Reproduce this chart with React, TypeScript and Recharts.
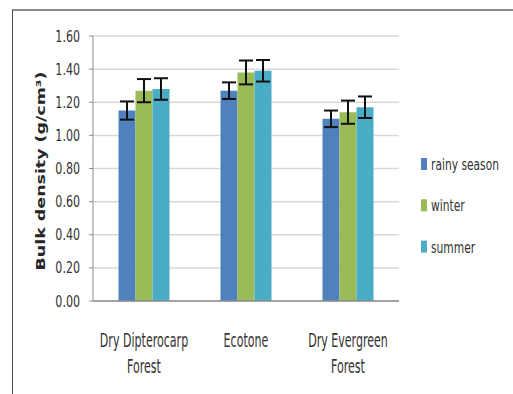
import React from 'react';
import { BarChart, Bar, XAxis, YAxis, CartesianGrid, ErrorBar, Legend } from 'recharts';

const categories = ['Dry Dipterocarp Forest', 'Ecotone', 'Dry Evergreen Forest'];
const seriesNames = ['rainy season', 'winter', 'summer'];
const seriesColors = ['#4f81bd', '#9bbb59', '#4bacc6'];

// mean bulk density per site (g/cm3)
const rainySeason = [1.15, 1.27, 1.1];
const winter = [1.27, 1.38, 1.14];
const summer = [1.28, 1.39, 1.17];

// standard deviations
const rainySeasonSd = [0.055, 0.05, 0.05];
const winterSd = [0.07, 0.072, 0.07];
const summerSd = [0.065, 0.065, 0.065];

const yTicks = [0, 0.2, 0.4, 0.6, 0.8, 1.0, 1.2, 1.4, 1.6];

const data = categories.map((name, i) => ({
  name,
  rainy: rainySeason[i],
  rainySd: rainySeasonSd[i],
  winter: winter[i],
  winterSd: winterSd[i],
  summer: summer[i],
  summerSd: summerSd[i],
}));

const seriesKeys = ['rainy', 'winter', 'summer'];

const FONT = '"DejaVu Sans Condensed", "Liberation Sans Narrow", sans-serif';
const TEXT = '#333333';

const YTick = ({ x, y, payload }: any) => (
  <g transform={`translate(${x},${y})`}>
    <text transform="scale(0.85,1.12)" x={0} y={5} textAnchor="end" fontFamily={FONT} fontSize={14.5} fill={TEXT}>
      {Number(payload.value).toFixed(2)}
    </text>
  </g>
);

const XTick = ({ x, y, payload }: any) => {
  const words = String(payload.value).split(' ');
  const lines = words.length > 2 ? [words.slice(0, -1).join(' '), words[words.length - 1]] : [payload.value];
  return (
    <g transform={`translate(${x},${y})`}>
      {lines.map((line: string, i: number) => (
        <text
          key={i}
          transform={`translate(0,${46 + i * 26}) scale(0.82,1.3)`}
          textAnchor="middle"
          fontFamily={FONT}
          fontSize={15}
          fill={TEXT}
        >
          {line}
        </text>
      ))}
    </g>
  );
};

const LegendBox = () => (
  <svg width={94} height={120}>
    {seriesNames.map((name, i) => (
      <g key={name} transform={`translate(0,${i * 41.3})`}>
        <rect x={2} y={8} width={6} height={12} fill={seriesColors[i]} />
        <text transform="translate(12,20) scale(0.82,1.15)" fontFamily={FONT} fontSize={14.5} fill={TEXT}>
          {name}
        </text>
      </g>
    ))}
  </svg>
);

export default function App() {
  return (
    <div style={{ position: 'absolute', left: 0, top: 0, width: 513, height: 394, background: '#fff', overflow: 'hidden' }}>
      {/* chart frame: top and left edges */}
      <div
        style={{
          position: 'absolute',
          left: 12,
          top: 9,
          width: 520,
          height: 400,
          borderTop: '2px solid #8a8a8a',
          borderLeft: '1px solid #505050',
        }}
      />
      <BarChart
        width={513}
        height={394}
        data={data}
        margin={{ top: 36, right: 114, bottom: 13, left: 13 }}
        barCategoryGap="25%"
        barGap={0}
        style={{ position: 'absolute', left: 0, top: 0 }}
      >
        <CartesianGrid vertical={false} stroke="#d9d9d9" strokeWidth={1.5} />
        <XAxis
          dataKey="name"
          height={80}
          tickLine={false}
          tickSize={0}
          tickMargin={0}
          axisLine={{ stroke: '#8c8c8c', strokeWidth: 1.5 }}
          tick={<XTick />}
          interval={0}
        />
        <YAxis
          width={80}
          domain={[0, 1.6]}
          ticks={yTicks}
          tickSize={4}
          tickMargin={9}
          tickLine={{ stroke: '#8c8c8c' }}
          axisLine={{ stroke: '#8c8c8c' }}
          tick={<YTick />}
          interval={0}
        />
        {seriesKeys.map((key, i) => (
          <Bar key={key} dataKey={key} name={seriesNames[i]} fill={seriesColors[i]} isAnimationActive={false}>
            <ErrorBar dataKey={`${key}Sd`} width={7} strokeWidth={2} stroke="#111" direction="y" isAnimationActive={false} />
          </Bar>
        ))}
        <Legend
          layout="vertical"
          align="center"
          verticalAlign="middle"
          wrapperStyle={{ left: 419, top: 150, width: 94, height: 120 }}
          content={<LegendBox />}
        />
        <text
          transform="translate(45,171) rotate(-90) scale(1.34,1)"
          textAnchor="middle"
          fontFamily='"DejaVu Sans", Verdana, sans-serif'
          fontWeight="bold"
          fontSize={13}
          fill="#262626"
        >
          Bulk density (g/cm³)
        </text>
      </BarChart>
    </div>
  );
}
